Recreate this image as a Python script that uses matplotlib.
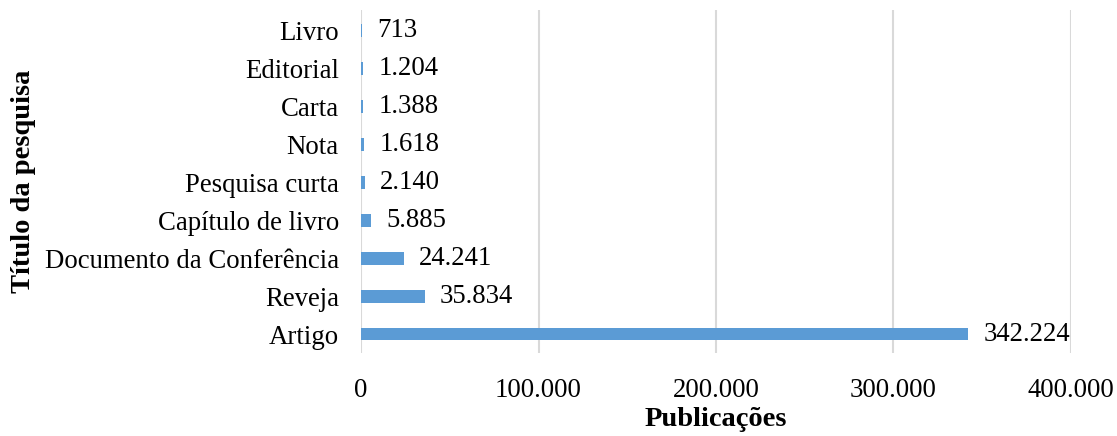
import matplotlib.pyplot as plt
from matplotlib.ticker import FuncFormatter

categories = ['Artigo', 'Reveja', 'Documento da Conferência', 'Capítulo de livro',
              'Pesquisa curta', 'Nota', 'Carta', 'Editorial', 'Livro']
values = [342224, 35834, 24241, 5885, 2140, 1618, 1388, 1204, 713]
ticks = [0, 100000, 200000, 300000, 400000]


def br(v):
    # formato brasileiro: ponto como separador de milhar
    return f'{int(v):,}'.replace(',', '.')


plt.rcParams['font.family'] = ['Liberation Serif', 'DejaVu Serif']
FS = 19.3

fig = plt.figure(figsize=(11.17, 4.36), dpi=100)
ax = fig.add_axes([0.3232, 0.1904, 0.9588 - 0.3232, 0.977 - 0.1904])

pos = list(range(len(categories)))
ax.barh(pos, values, height=0.34, color='#5B9BD5', zorder=3)
for p, v in zip(pos, values):
    ax.annotate(br(v), (v, p), xytext=(11, 0), textcoords='offset points',
                va='center', ha='left', fontsize=FS, color='black')

ax.set_xlim(0, 400000)
ax.set_ylim(-0.5, len(categories) - 0.45)
ax.set_xticks(ticks)
ax.xaxis.set_major_formatter(FuncFormatter(lambda v, _: br(v)))
ax.set_yticks(pos)
ax.set_yticklabels(categories)
ax.tick_params(axis='both', length=0, labelsize=FS, colors='black')
ax.tick_params(axis='x', pad=18)
ax.tick_params(axis='y', pad=16)
ax.grid(axis='x', color='#D9D9D9', linewidth=1.5, zorder=0)
for s in ax.spines.values():
    s.set_visible(False)

ax.set_xlabel('Publicações', fontsize=20.5, fontweight='bold', labelpad=3)
fig.text(0.021, 0.583, 'Título da pesquisa', rotation=90, fontsize=20.5,
         fontweight='bold', ha='center', va='center')

fig.savefig('out.png', dpi=100)
